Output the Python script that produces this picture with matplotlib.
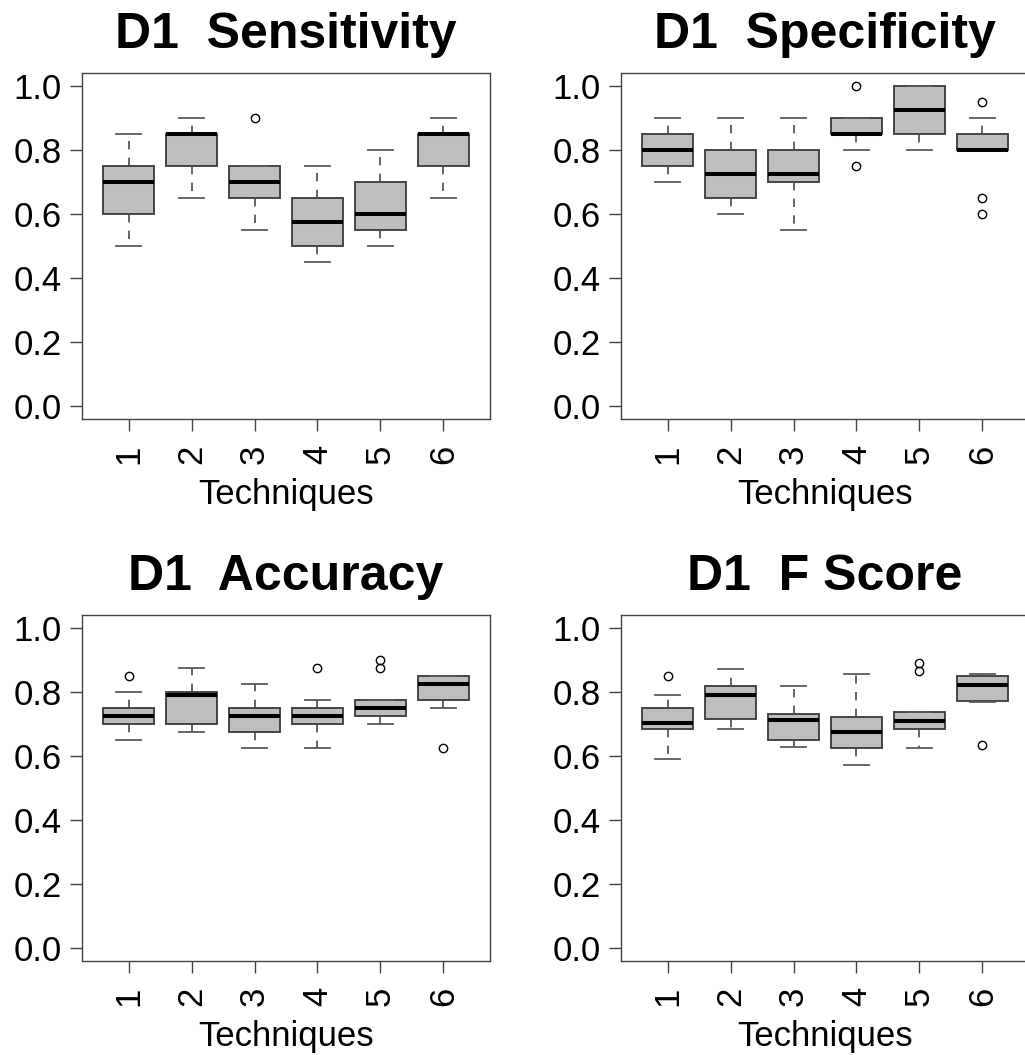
import matplotlib
matplotlib.use('Agg')
import matplotlib.pyplot as plt

plt.rcParams['font.family'] = ['Liberation Sans', 'DejaVu Sans']

techniques = ['1', '2', '3', '4', '5', '6']
yticks = [0.0, 0.2, 0.4, 0.6, 0.8, 1.0]

# box stats: whisker low, q1, median, q3, whisker high, outliers
sens_lo = [0.50, 0.65, 0.55, 0.45, 0.50, 0.65]
sens_q1 = [0.60, 0.75, 0.65, 0.50, 0.55, 0.75]
sens_med = [0.70, 0.85, 0.70, 0.575, 0.60, 0.85]
sens_q3 = [0.75, 0.85, 0.75, 0.65, 0.70, 0.85]
sens_hi = [0.85, 0.90, 0.75, 0.75, 0.80, 0.90]
sens_out = [[], [], [0.90], [], [], []]

spec_lo = [0.70, 0.60, 0.55, 0.80, 0.80, 0.80]
spec_q1 = [0.75, 0.65, 0.70, 0.85, 0.85, 0.80]
spec_med = [0.80, 0.725, 0.725, 0.85, 0.925, 0.80]
spec_q3 = [0.85, 0.80, 0.80, 0.90, 1.00, 0.85]
spec_hi = [0.90, 0.90, 0.90, 0.90, 1.00, 0.90]
spec_out = [[], [], [], [1.00, 0.75], [], [0.95, 0.65, 0.60]]

acc_lo = [0.65, 0.675, 0.625, 0.625, 0.70, 0.75]
acc_q1 = [0.70, 0.70, 0.675, 0.70, 0.725, 0.775]
acc_med = [0.725, 0.79, 0.725, 0.725, 0.75, 0.825]
acc_q3 = [0.75, 0.80, 0.75, 0.75, 0.775, 0.85]
acc_hi = [0.80, 0.875, 0.825, 0.775, 0.775, 0.85]
acc_out = [[0.85], [], [], [0.875], [0.90, 0.875], [0.625]]

f_lo = [0.59, 0.683, 0.629, 0.572, 0.625, 0.77]
f_q1 = [0.685, 0.715, 0.65, 0.625, 0.685, 0.773]
f_med = [0.702, 0.79, 0.7125, 0.676, 0.709, 0.821]
f_q3 = [0.75, 0.819, 0.731, 0.722, 0.736, 0.849]
f_hi = [0.79, 0.872, 0.819, 0.857, 0.736, 0.857]
f_out = [[0.85], [], [], [], [0.889, 0.864], [0.634]]

panels = [
    ('D1  Sensitivity', sens_lo, sens_q1, sens_med, sens_q3, sens_hi, sens_out),
    ('D1  Specificity', spec_lo, spec_q1, spec_med, spec_q3, spec_hi, spec_out),
    ('D1  Accuracy', acc_lo, acc_q1, acc_med, acc_q3, acc_hi, acc_out),
    ('D1  F Score', f_lo, f_q1, f_med, f_q3, f_hi, f_out),
]

W, H = 1025, 1055
fig = plt.figure(figsize=(W / 100, H / 100), dpi=100)

# axes boxes in pixels: left, top, width, height
boxes = [(82, 73, 408, 346), (621, 73, 408, 346),
         (82, 615, 408, 346), (621, 615, 408, 346)]

for (title, lo, q1, med, q3, hi, out), (l, t, w, h) in zip(panels, boxes):
    ax = fig.add_axes([l / W, 1 - (t + h) / H, w / W, h / H])
    stats = []
    for i in range(6):
        stats.append(dict(whislo=lo[i], q1=q1[i], med=med[i], q3=q3[i],
                          whishi=hi[i], fliers=out[i]))
    ax.bxp(stats, positions=range(1, 7), widths=0.8, capwidths=0.4,
           patch_artist=True,
           boxprops=dict(facecolor='#bebebe', edgecolor='#3a3a3a', linewidth=1.3),
           medianprops=dict(color='black', linewidth=2.9, solid_capstyle='butt'),
           whiskerprops=dict(color='#4a4a4a', linewidth=1.2, linestyle=(0, (5, 5))),
           capprops=dict(color='#5a5a5a', linewidth=1.3),
           flierprops=dict(marker='o', markersize=6, markerfacecolor='none',
                           markeredgecolor='black', markeredgewidth=1.0))
    ax.set_xlim(0.26, 6.74)
    ax.set_ylim(-0.04, 1.04)
    ax.set_yticks(yticks)
    ax.set_yticklabels([f'{v:.1f}' for v in yticks], fontsize=25)
    ax.set_xticks(range(1, 7))
    ax.set_xticklabels(techniques, fontsize=25, rotation=90)
    ax.tick_params(axis='both', length=8.5, width=1.0, color='#444444')
    ax.tick_params(axis='y', pad=6)
    ax.tick_params(axis='x', pad=10)
    for s in ax.spines.values():
        s.set_color('#444444')
        s.set_linewidth(1.0)
    ax.set_xlabel('Techniques', fontsize=25, labelpad=10)
    ax.set_title(title, fontsize=36, fontweight='bold', pad=18)

fig.savefig('out.png', dpi=100)
